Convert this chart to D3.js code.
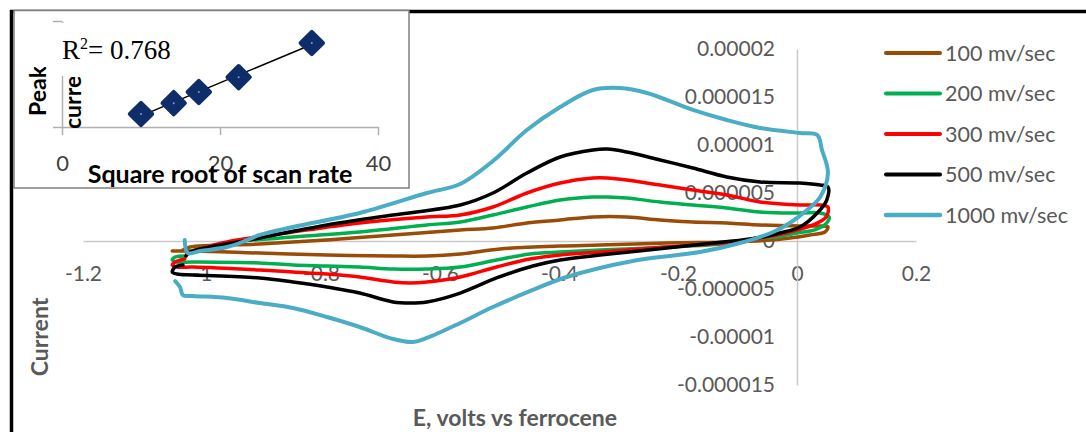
<!DOCTYPE html>
<html>
<head>
<meta charset="utf-8">
<script src="https://cdn.jsdelivr.net/npm/d3@7"></script>
<style>
  body { margin: 0; background: #fff; }
  svg { display: block; font-family: Lato, "Open Sans", sans-serif; }
</style>
</head>
<body>
<svg id="chart" width="1086" height="432"></svg>
<script>
// cyclic voltammograms, [E (V vs Fc), current (µA)]
const cv100 = [
  [-1.032, -0.94], [-1.020, -0.63], [-0.903, -0.31], [-0.790, 0.10], [-0.679, 0.63],
  [-0.566, 1.15], [-0.511, 1.35], [-0.454, 1.88], [-0.398, 2.19], [-0.343, 2.50],
  [-0.286, 2.50], [-0.230, 2.19], [-0.175, 1.98], [-0.118, 1.88], [-0.062, 1.67],
  [0.005, 1.56], [0.039, 1.56], [0.052, 1.46],
  [0.047, 0.94], [0.022, 0.63], [-0.012, 0.31], [-0.045, 0.10], [-0.108, -0.10],
  [-0.219, -0.21], [-0.331, -0.42], [-0.398, -0.52], [-0.499, -0.83], [-0.566, -1.35],
  [-0.622, -1.56], [-0.679, -1.56], [-0.790, -1.46], [-0.903, -1.25], [-1.015, -1.04],
  [-1.050, -1.04]
];
const cv200 = [
  [-1.025, -1.15], [-0.958, -0.21], [-0.847, 0.42], [-0.735, 0.94], [-0.622, 1.67],
  [-0.566, 1.98], [-0.511, 2.71], [-0.454, 3.54], [-0.398, 4.27], [-0.343, 4.58],
  [-0.319, 4.58], [-0.286, 4.48], [-0.230, 4.06], [-0.175, 3.75], [-0.118, 3.44],
  [-0.062, 3.02], [0.005, 2.92], [0.039, 2.92], [0.054, 2.50],
  [0.050, 1.88], [0.030, 1.15], [0.000, 0.83], [-0.034, 0.42], [-0.067, 0.31],
  [-0.108, -0.21], [-0.219, -0.63], [-0.331, -0.94], [-0.398, -1.15], [-0.449, -1.35],
  [-0.505, -1.98], [-0.566, -2.71], [-0.622, -2.92], [-0.679, -2.92], [-0.735, -2.71],
  [-0.790, -2.60], [-0.847, -2.50], [-0.903, -2.29], [-1.015, -2.19], [-1.042, -2.19],
  [-1.050, -1.98], [-1.045, -1.67], [-1.029, -1.56]
];
const cv300 = [
  [-1.026, -1.25], [-1.015, -1.04], [-0.958, -0.10], [-0.847, 0.94], [-0.735, 1.88],
  [-0.622, 2.50], [-0.566, 2.71], [-0.511, 3.54], [-0.454, 5.00], [-0.398, 6.04],
  [-0.343, 6.56], [-0.319, 6.56], [-0.286, 6.35], [-0.230, 5.83], [-0.175, 5.31],
  [-0.118, 4.79], [-0.062, 4.06], [0.005, 3.75], [0.039, 3.75], [0.052, 3.54],
  [0.049, 2.50], [0.027, 1.67], [0.000, 1.15], [-0.034, 0.63], [-0.067, 0.31],
  [-0.108, -0.10], [-0.219, -0.63], [-0.331, -1.15], [-0.398, -1.46], [-0.449, -1.88],
  [-0.505, -2.71], [-0.566, -3.75], [-0.622, -4.27], [-0.650, -4.38], [-0.679, -4.27],
  [-0.735, -3.75], [-0.790, -3.44], [-0.847, -3.23], [-0.903, -3.02], [-1.015, -2.71],
  [-1.042, -2.71], [-1.050, -2.50], [-1.045, -2.19], [-1.029, -1.88]
];
const cv500 = [
  [-1.027, -1.56], [-1.020, -1.15], [-0.903, 0.31], [-0.790, 1.67], [-0.679, 2.71],
  [-0.566, 3.75], [-0.511, 5.00], [-0.454, 7.08], [-0.398, 8.75], [-0.343, 9.48],
  [-0.319, 9.58], [-0.286, 9.27], [-0.230, 8.44], [-0.175, 7.60], [-0.118, 6.67],
  [-0.062, 6.15], [0.005, 6.04], [0.039, 5.83], [0.052, 5.63],
  [0.050, 4.27], [0.034, 2.92], [0.005, 1.46], [-0.029, 0.83], [-0.067, 0.31],
  [-0.108, 0.00], [-0.219, -0.73], [-0.331, -1.46], [-0.398, -1.98], [-0.444, -2.60],
  [-0.505, -3.85], [-0.566, -5.42], [-0.622, -6.35], [-0.650, -6.46], [-0.679, -6.35],
  [-0.735, -5.42], [-0.790, -4.79], [-0.847, -4.27], [-0.903, -3.85], [-1.015, -3.54],
  [-1.042, -3.44], [-1.050, -3.23], [-1.045, -2.71], [-1.032, -2.50]
];
const cv1000 = [
  [-1.029, 0.10], [-1.024, -1.25], [-1.003, -1.04], [-0.958, -0.63], [-0.924, 0.10],
  [-0.903, 0.63], [-0.847, 1.46], [-0.735, 2.92], [-0.622, 5.00], [-0.566, 5.94],
  [-0.511, 8.33], [-0.454, 11.56], [-0.398, 13.96], [-0.343, 15.73], [-0.298, 15.94],
  [-0.252, 15.42], [-0.175, 13.65], [-0.118, 12.60], [-0.062, 11.77], [0.005, 11.25],
  [0.034, 11.04], [0.042, 9.48], [0.052, 7.08],
  [0.039, 4.58], [0.017, 3.23], [-0.012, 1.88], [-0.040, 0.94], [-0.096, -0.21],
  [-0.163, -1.15], [-0.276, -2.08], [-0.387, -3.75], [-0.444, -5.10], [-0.511, -6.88],
  [-0.566, -8.54], [-0.622, -10.10], [-0.645, -10.52], [-0.679, -10.21], [-0.735, -8.96],
  [-0.790, -7.92], [-0.847, -6.98], [-0.903, -6.46], [-0.958, -5.94], [-1.015, -5.73],
  [-1.032, -5.63], [-1.037, -4.79], [-1.045, -4.17]
];
const seriesNames = ["100 mv/sec", "200 mv/sec", "300 mv/sec", "500 mv/sec", "1000 mv/sec"];

const xTicks = [-1.2, -1, -0.8, -0.6, -0.4, -0.2, 0, 0.2];
const xTickLabels = ["-1.2", "-1", "-0.8", "-0.6", "-0.4", "-0.2", "0", "0.2"];
const yTicks = [-15, -10, -5, 0, 5, 10, 15, 20];
const yTickLabels = ["-0.000015", "-0.00001", "-0.000005", "0", "0.000005", "0.00001", "0.000015", "0.00002"];

// inset: peak current vs square root of scan rate
const sqrtScanRate = [10, 14.14, 17.32, 22.36, 31.62];
const peakCurrent = [2.45e-6, 4.5e-6, 6.6e-6, 9.4e-6, 15.85e-6];
const insetXTicks = [0, 20, 40];
const rSquaredText = "0.768";

const colors = ["#9a4c06", "#00b050", "#ff0000", "#000000", "#4bacc6"];
const widths = [3.5, 3.5, 3.5, 3.5, 4];
const gray = "#595959";

const svg = d3.select("#chart");

const x = d3.scaleLinear().domain([-1.2, 0.2]).range([83, 916]);
const y = d3.scaleLinear().domain([-15, 20]).range([385, 49]);

// axes
const gX = svg.append("g")
    .attr("transform", "translate(0," + y(0) + ")")
    .call(d3.axisBottom(x).tickValues(xTicks).tickSize(0).tickPadding(25)
      .tickFormat(d => xTickLabels[xTicks.indexOf(d)]));
const gY = svg.append("g")
    .attr("transform", "translate(" + x(0) + ",0)")
    .call(d3.axisLeft(y).tickValues(yTicks).tickSize(0).tickPadding(22)
      .tickFormat(d => yTickLabels[yTicks.indexOf(d)]));

[gX, gY].forEach(g => {
  g.select(".domain").attr("stroke", "#c9c9c9").attr("stroke-width", 1.5);
  g.selectAll("text").attr("fill", gray).style("font-size", "21px")
    .style("font-family", "Lato, 'Open Sans', sans-serif");
});

// curves
const line = d3.line()
    .x(d => x(d[0]))
    .y(d => y(d[1]))
    .curve(d3.curveCatmullRom.alpha(0.5));

const allSeries = [cv100, cv200, cv300, cv500, cv1000];
svg.append("g").selectAll("path")
  .data(allSeries)
  .join("path")
    .attr("fill", "none")
    .attr("stroke", (d, i) => colors[i])
    .attr("stroke-width", (d, i) => widths[i])
    .attr("stroke-linejoin", "round")
    .attr("stroke-linecap", "round")
    .attr("d", line);

// legend
const legend = svg.append("g").attr("transform", "translate(886,53)");
const item = legend.selectAll("g")
  .data(seriesNames)
  .join("g")
    .attr("transform", (d, i) => "translate(0," + (i * 40.5) + ")");
item.append("line")
    .attr("x1", 0).attr("x2", 54)
    .attr("stroke", (d, i) => colors[i])
    .attr("stroke-width", (d, i) => widths[i] + 0.5)
    .attr("stroke-linecap", "round");
item.append("text")
    .attr("x", 59)
    .attr("dy", "0.35em")
    .attr("fill", gray)
    .style("font-size", "21.5px")
    .text(d => d);

// axis titles
svg.append("text")
    .attr("transform", "translate(48,337) rotate(-90)")
    .attr("text-anchor", "middle")
    .attr("fill", gray)
    .style("font-size", "23px")
    .style("font-weight", "bold")
    .text("Current");
svg.append("text")
    .attr("x", 515).attr("y", 426)
    .attr("text-anchor", "middle")
    .attr("fill", gray)
    .style("font-size", "23px")
    .style("font-weight", "bold")
    .text("E, volts vs ferrocene");

// outer frame
svg.append("rect")
    .attr("x", 11.5).attr("y", 11.5)
    .attr("width", 1200).attr("height", 600)
    .attr("fill", "none")
    .attr("stroke", "#000")
    .attr("stroke-width", 3.5);

// inset
const inset = svg.append("g");
inset.append("rect")
    .attr("x", 14).attr("y", 10.5)
    .attr("width", 395).attr("height", 177.5)
    .attr("fill", "#fff")
    .attr("stroke", "#7f7f7f")
    .attr("stroke-width", 1.5);

const ix = d3.scaleLinear().domain([0, 40]).range([62, 378]);
const iy = d3.scaleLinear().domain([0, 2e-5]).range([127, 21]);

const gIX = inset.append("g")
    .attr("transform", "translate(0," + iy(0) + ")")
    .call(d3.axisBottom(ix).tickValues(insetXTicks).tickSize(8).tickSizeOuter(0).tickPadding(20));
const gIY = inset.append("g")
    .attr("transform", "translate(" + ix(0) + ",0)")
    .call(d3.axisLeft(iy).tickValues([0, 2e-5]).tickSize(9).tickSizeOuter(0).tickFormat(""));
[gIX, gIY].forEach(g => {
  g.selectAll(".domain, line").attr("stroke", "#b0b0b0").attr("stroke-width", 1.5);
  g.selectAll("text").attr("fill", "#404040").style("font-size", "22px")
    .style("font-family", "Lato, 'Open Sans', sans-serif");
});
// label box hides the upper part of the inset y axis
inset.append("rect").attr("x", 56).attr("y", 23).attr("width", 14).attr("height", 53).attr("fill", "#fff");

// clipped axis title (two lines, cut off by its box)
inset.append("clipPath").attr("id", "clipPeak")
  .append("rect").attr("x", 27).attr("y", 67).attr("width", 22).attr("height", 60);
inset.append("clipPath").attr("id", "clipCurr")
  .append("rect").attr("x", 63).attr("y", 77).attr("width", 22).attr("height", 51);
inset.append("g")
    .attr("clip-path", "url(#clipPeak)")
  .append("text")
    .attr("transform", "translate(46,116) rotate(-90)")
    .attr("fill", "#000")
    .style("font-size", "23px").style("font-weight", "bold")
    .text("Peak");
inset.append("g")
    .attr("clip-path", "url(#clipCurr)")
  .append("text")
    .attr("transform", "translate(81,129) rotate(-90)")
    .attr("fill", "#000")
    .style("font-size", "23px").style("font-weight", "bold")
    .text("current");

// regression trend line
const mx = d3.mean(sqrtScanRate), my = d3.mean(peakCurrent);
const sxy = d3.sum(sqrtScanRate, (v, i) => (v - mx) * (peakCurrent[i] - my));
const sxx = d3.sum(sqrtScanRate, v => (v - mx) * (v - mx));
const slope = sxy / sxx, icpt = my - slope * mx;
const xr = d3.extent(sqrtScanRate);
inset.append("line")
    .attr("x1", ix(xr[0])).attr("y1", iy(icpt + slope * xr[0]))
    .attr("x2", ix(xr[1])).attr("y2", iy(icpt + slope * xr[1]))
    .attr("stroke", "#000").attr("stroke-width", 1.5);

inset.append("g").selectAll("g")
  .data(sqrtScanRate)
  .join("g")
    .attr("transform", (d, i) => "translate(" + ix(d) + "," + iy(peakCurrent[i]) + ")")
    .call(g => g.append("path")
      .attr("d", d3.symbol(d3.symbolSquare, 250))
      .attr("transform", "rotate(45)")
      .attr("fill", "#0f2d69")
      .attr("stroke", "#0f2d69")
      .attr("stroke-width", 4)
      .attr("stroke-linejoin", "round"))
    .call(g => g.append("circle").attr("r", 1).attr("fill", "#6fa0d8"));

const r2 = inset.append("text")
    .attr("x", 62).attr("y", 59)
    .style("font-family", "'Liberation Serif', 'Times New Roman', serif")
    .style("font-size", "27px")
    .attr("fill", "#000");
r2.append("tspan").text("R");
r2.append("tspan").attr("dy", -10).style("font-size", "16px").text("2");
r2.append("tspan").attr("dy", 10).text("= " + rSquaredText);

inset.append("text")
    .attr("x", 220).attr("y", 183)
    .attr("text-anchor", "middle")
    .attr("fill", "#000")
    .style("font-size", "25px").style("font-weight", "bold")
    .text("Square root of scan rate");
</script>
</body>
</html>
